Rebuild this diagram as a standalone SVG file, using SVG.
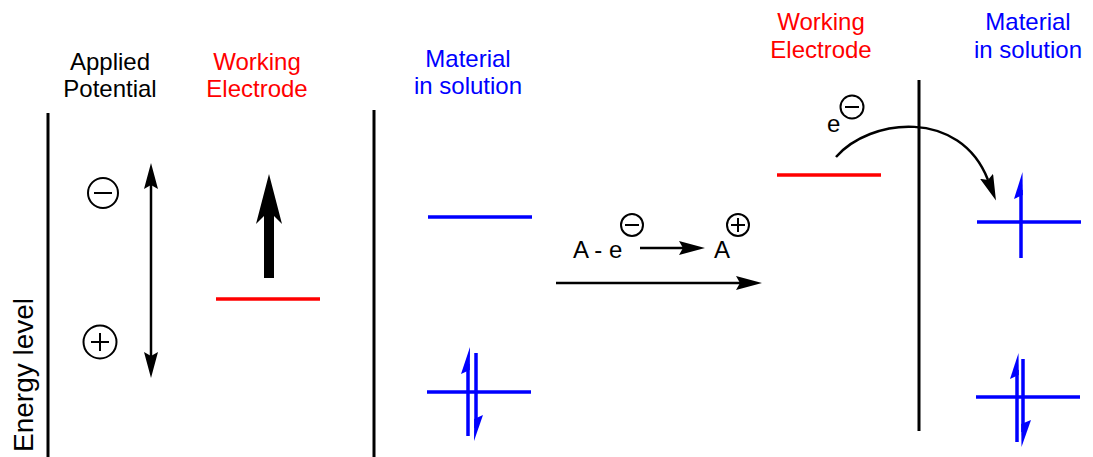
<svg xmlns="http://www.w3.org/2000/svg" width="1093" height="457" viewBox="0 0 1093 457">
<style>
text{font-family:"Liberation Sans",Arial,sans-serif;font-size:24px}
.k{fill:#000}.r{fill:#ff0000}.b{fill:#0000ff}
.ax{stroke:#000;stroke-width:3;fill:none}
.thin{stroke:#000;stroke-width:2.5;fill:none}
.rl{stroke:#ff0000;stroke-width:3.5;fill:none}
.bl{stroke:#0000ff;stroke-width:3.5;fill:none}
.bf{fill:#0000ff}
.sym{stroke:#000;stroke-width:2;fill:none}
.mid{text-anchor:middle}
</style>
<defs>
<marker id="ah" markerUnits="userSpaceOnUse" markerWidth="30" markerHeight="16" refX="4" refY="7" orient="auto-start-reverse">
<path d="M0,0 L26,7 L0,14 L4,7 Z" fill="#000"/>
</marker>
</defs>
<g id="energy-axis">
<line class="ax" x1="48" y1="113" x2="48" y2="457"/>
<text class="k" transform="translate(33,452) rotate(-90)" style="font-size:28px">Energy level</text>
</g>
<g id="applied-potential">
<text class="k mid" x="110" y="70">Applied</text>
<text class="k mid" x="110" y="97">Potential</text>
<circle class="sym" cx="103" cy="193" r="15"/>
<line class="sym" x1="94" y1="193" x2="112" y2="193"/>
<circle class="sym" cx="100" cy="342" r="16.5"/>
<line class="sym" x1="91" y1="342" x2="109" y2="342"/>
<line class="sym" x1="100" y1="333" x2="100" y2="351"/>
</g>
<g id="working-electrode-1">
<text class="r mid" x="257" y="70">Working</text>
<text class="r mid" x="257" y="97">Electrode</text>
<line class="rl" x1="216" y1="299" x2="320" y2="299"/>
<path d="M264,278 V216 L256,224 L269,174 L282,224 L274,216 V278 Z" fill="#000"/>
</g>
<g id="divider-1">
<line class="ax" x1="374" y1="110" x2="374" y2="457"/>
</g>
<g id="material-1">
<text class="b mid" x="468" y="67">Material</text>
<text class="b mid" x="468" y="94">in solution</text>
<line class="bl" x1="428" y1="217" x2="532" y2="217"/>
<line class="bl" x1="427" y1="392" x2="531" y2="392"/>
<line class="bl" x1="468" y1="436" x2="468" y2="364"/>
<polygon class="bf" points="470,347 461,374 469.8,370"/>
<line class="bl" x1="476" y1="353" x2="476" y2="428"/>
<polygon class="bf" points="474,441 483,415 474.2,419"/>
</g>
<g id="reaction">
<text class="k" x="573" y="258">A - e</text>
<circle class="sym" cx="632" cy="225" r="11"/>
<line class="sym" x1="625" y1="225" x2="639" y2="225"/>
<text class="k" x="714" y="258">A</text>
<circle class="sym" cx="738" cy="225" r="11"/>
<line class="sym" x1="731" y1="225" x2="745" y2="225"/>
<line class="sym" x1="738" y1="218" x2="738" y2="232"/>
</g>
<g id="working-electrode-2">
<text class="r mid" x="821" y="30">Working</text>
<text class="r mid" x="821" y="58">Electrode</text>
<line class="rl" x1="777" y1="175" x2="881" y2="175"/>
<text class="k" x="827" y="132">e</text>
<circle class="sym" cx="852" cy="107" r="11.5"/>
<line class="sym" x1="845" y1="107" x2="859" y2="107"/>
</g>
<g id="divider-2">
<line class="ax" x1="919" y1="80" x2="919" y2="431"/>
</g>
<g id="material-2">
<text class="b mid" x="1028" y="30">Material</text>
<text class="b mid" x="1028" y="58">in solution</text>
<line class="bl" x1="977" y1="222" x2="1081" y2="222"/>
<line class="bl" x1="1021" y1="258" x2="1021" y2="190"/>
<polygon class="bf" points="1022.5,172 1014,199 1022.8,195"/>
<line class="bl" x1="976" y1="397" x2="1080" y2="397"/>
<line class="bl" x1="1017" y1="442" x2="1017" y2="370"/>
<polygon class="bf" points="1018.5,353 1010,379 1018.8,375"/>
<line class="bl" x1="1023" y1="359" x2="1023" y2="432"/>
<polygon class="bf" points="1021.5,447 1031,420 1021.2,424"/>
</g>
<g id="connectors">
<line class="thin" x1="151" y1="185" x2="151" y2="356" marker-start="url(#ah)" marker-end="url(#ah)"/>
<line class="thin" x1="640" y1="248" x2="683" y2="248" marker-end="url(#ah)"/>
<line class="thin" x1="556" y1="283" x2="740" y2="283" marker-end="url(#ah)"/>
<path class="thin" d="M836,157 C870,118 960,108 988,180" marker-end="url(#ah)"/>
</g>
</svg>
